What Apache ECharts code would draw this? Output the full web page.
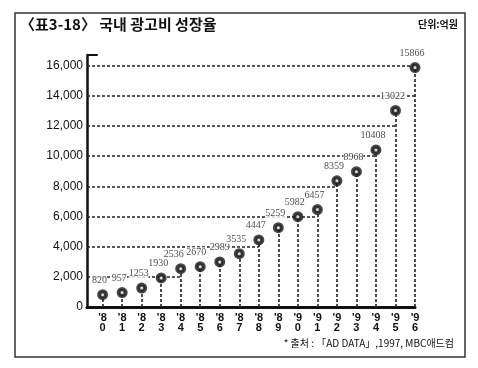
<!DOCTYPE html>
<html>
<head>
<meta charset="utf-8">
<script src="https://cdn.jsdelivr.net/npm/echarts@6/dist/echarts.min.js"></script>
<style>html,body{margin:0;padding:0;background:#fff}#c{width:478px;height:368px}</style>
</head>
<body>
<div id="c"></div>
<script>
var years = [80,81,82,83,84,85,86,87,88,89,90,91,92,93,94,95,96];
var values = [820,957,1253,1930,2536,2670,2989,3535,4447,5259,5982,6457,8359,8968,10408,13022,15866];
var yTicks = [0,2000,4000,6000,8000,10000,12000,14000,16000];
var gridLevels = [2000,4000,6000,8000,10000,12000,14000,16000];

var X_MIN = 79.2, X_MAX = 96, Y_MAX = 16700;

var pts = years.map(function(y,i){
  var item = {value:[y, values[i]]};
  if (i === 4) item.label = {offset:[-7,0]};
  if (i === 5) item.label = {offset:[-4,0]};
  if (i === 6) item.label = {offset:[0,0]};
  return item;
});
var ptsPlain = years.map(function(y,i){ return [y, values[i]]; });

var vLines = years.map(function(y,i){ return [{coord:[y,0]},{coord:[y,values[i]]}]; });
var hLines = gridLevels.map(function(g){
  var idx = values.findIndex(function(v){ return v >= g; });
  if (idx < 0) idx = values.length - 1;
  return [{coord:[X_MIN,g]},{coord:[years[idx],g]}];
});

var chart = echarts.init(document.getElementById('c'), null, {renderer:'canvas'});
chart.setOption({
  animation:false,
  backgroundColor:'#fff',
  grid:{left:87, right:63, top:55, bottom:61},
  graphic:[
    {type:'rect', shape:{x:15,y:13,width:450,height:344}, style:{fill:'none', stroke:'#333', lineWidth:1.5}},
    {type:'text', left:20, top:17, style:{text:'〈표3-18〉 국내 광고비 성장율', font:'bold 15px "Noto Sans CJK KR"', fill:'#111'}},
    {type:'text', right:20, top:19, style:{text:'단위:억원', font:'bold 10px "Noto Sans CJK KR"', fill:'#111'}},
    {type:'text', right:24, top:338, style:{text:'* 출처 : 「AD DATA」,1997, MBC애드컴', font:'10px "Noto Sans CJK KR"', fill:'#111'}}
  ],
  xAxis:{
    type:'value', min:X_MIN, max:X_MAX,
    splitLine:{show:false},
    axisLine:{show:true, onZero:false, lineStyle:{color:'#111', width:3}},
    axisTick:{show:false},
    axisLabel:{
      customValues: years,
      margin:6,
      color:'#111',
      fontFamily:'Liberation Sans',
      fontWeight:'bold',
      fontSize:11,
      lineHeight:10,
      formatter:function(v){ var s = String(Math.round(v)); return "'" + s[0] + "\n" + s[1]; }
    }
  },
  yAxis:{
    type:'value', min:0, max:Y_MAX,
    splitLine:{show:false},
    axisLine:{show:true, onZero:false, lineStyle:{color:'#111', width:2.5}},
    axisTick:{show:false},
    axisLabel:{
      customValues: yTicks,
      margin:4,
      color:'#111',
      fontFamily:'Liberation Sans',
      fontSize:12,
      formatter:function(v){ return v.toLocaleString('en-US'); }
    }
  },
  series:[
    {
      type:'scatter',
      data:pts,
      symbol:'circle',
      symbolSize:11,
      itemStyle:{color:'#1a1a1a'},
      z:5,
      label:{
        show:true, position:'top', distance:4, offset:[-3,0],
        color:'#1a1a1a', fontFamily:'Liberation Serif', fontSize:10,
        backgroundColor:'#fff', padding:[0,0],
        formatter:function(p){ return String(p.value[1]); }
      },
      markLine:{
        silent:true,
        symbol:['none','none'],
        label:{show:false},
        lineStyle:{color:'#222', type:[3,2], width:1.6},
        data: vLines.concat(hLines).concat([
          [{coord:[X_MIN,Y_MAX], lineStyle:{type:'solid', width:2, color:'#111'}},{coord:[X_MIN+0.55,Y_MAX]}]
        ])
      }
    },
    {
      type:'scatter',
      data:ptsPlain,
      symbol:'emptyCircle',
      symbolSize:5,
      itemStyle:{color:'#1a1a1a', borderColor:'#cfcfcf', borderWidth:1},
      z:6,
      silent:true
    }
  ]
});
</script>
</body>
</html>
